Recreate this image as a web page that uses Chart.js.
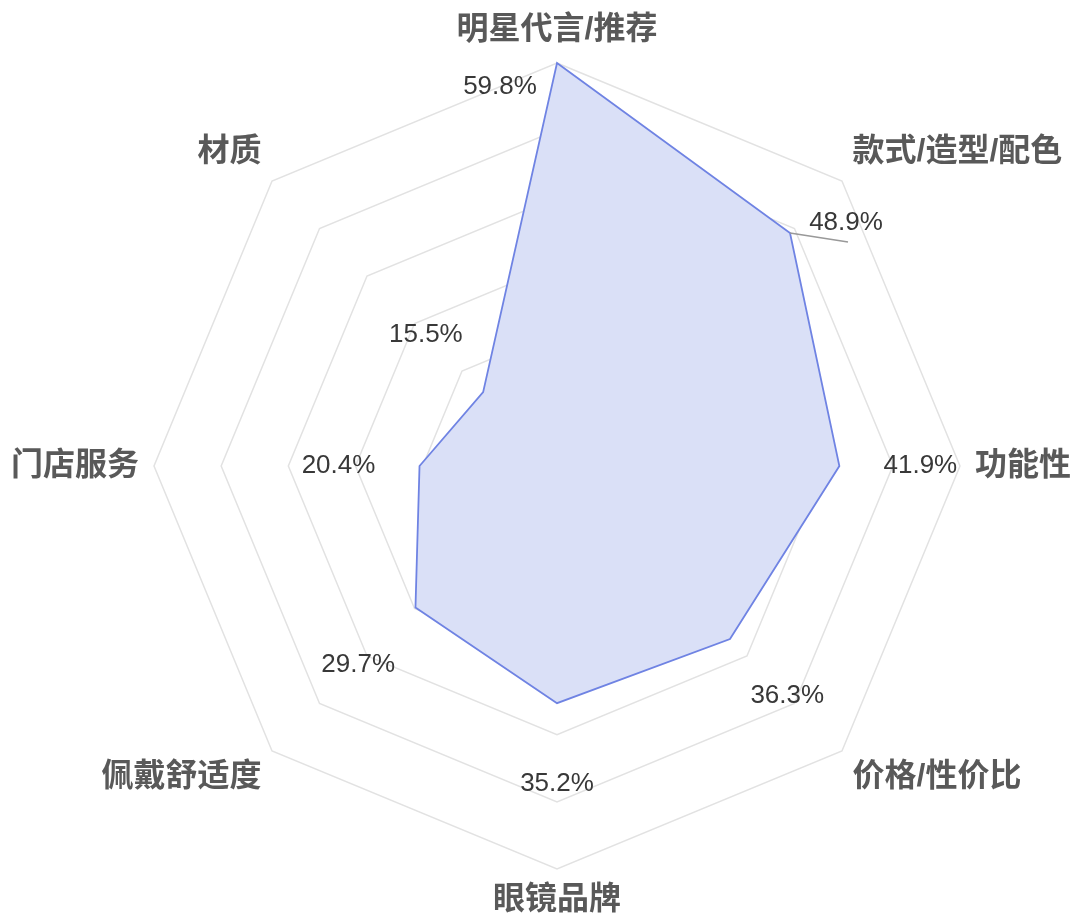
<!DOCTYPE html>
<html>
<head>
<meta charset="utf-8">
<script src="https://cdn.jsdelivr.net/npm/chart.js@4.4.1/dist/chart.umd.min.js"></script>
<style>
  html, body { margin: 0; padding: 0; background: #fff; }
  #wrap { width: 1071px; height: 915px; }
</style>
</head>
<body>
<div id="wrap"><canvas id="myChart" width="1071" height="915"></canvas></div>
<script>
const LABELS = ["明星代言/推荐", "款式/造型/配色", "功能性", "价格/性价比", "眼镜品牌", "佩戴舒适度", "门店服务", "材质"];
const VALUES = [59.8, 48.9, 41.9, 36.3, 35.2, 29.7, 20.4, 15.5];
const SCALE_MAX = 59.8;

const FONT = "'Liberation Sans', Arial, 'Noto Sans CJK SC', sans-serif";

// 축 라벨 + 값 라벨을 직접 그리는 플러그인
const labelPlugin = {
  id: 'radarLabels',
  afterDatasetsDraw(chart) {
    const ctx = chart.ctx;
    const scale = chart.scales.r;
    const outer = scale.drawingArea;
    const cx = scale.xCenter, cy = scale.yCenter;

    // 카테고리 라벨
    ctx.save();
    ctx.font = "bold 32px " + FONT;
    ctx.fillStyle = "#595959";
    ctx.textBaseline = "middle";
    LABELS.forEach((label, i) => {
      const p = scale.getPointPosition(i, outer + 15);
      const dx = p.x - cx, dy = p.y - cy;
      ctx.textAlign = Math.abs(dx) < 5 ? "center" : (dx > 0 ? "left" : "right");
      let y = p.y;
      if (dy < -5) y -= 18;
      else if (dy > 5) y += 16;
      ctx.fillText(label, p.x, y);
    });
    ctx.restore();

    // 값 라벨 (위쪽 두 개는 위치 조정)
    const shift = { 0: [-57, 24], 1: [56, -10] };
    ctx.save();
    ctx.font = "26px " + FONT;
    ctx.fillStyle = "#383838";
    ctx.textAlign = "center";
    ctx.textBaseline = "middle";
    VALUES.forEach((v, i) => {
      const d = scale.getDistanceFromCenterForValue(v);
      const pt = scale.getPointPosition(i, d);
      let pos;
      if (shift[i]) {
        pos = { x: pt.x + shift[i][0], y: pt.y + shift[i][1] };
      } else {
        pos = scale.getPointPosition(i, d + 81);
      }
      if (i === 1) {
        ctx.strokeStyle = "#999";
        ctx.lineWidth = 1.5;
        ctx.beginPath();
        ctx.moveTo(pt.x, pt.y);
        ctx.lineTo(pt.x + 58, pt.y + 9);
        ctx.stroke();
      }
      ctx.fillText(v.toFixed(1) + "%", pos.x, pos.y);
    });
    ctx.restore();
  }
};

const config = {
  type: "radar",
  data: {
    labels: LABELS,
    datasets: [{
      data: VALUES,
      borderColor: "#6f83e3",
      backgroundColor: "rgb(218,224,247)",
      borderWidth: 1.8,
      fill: true,
      pointRadius: 0,
      pointHoverRadius: 0,
      tension: 0
    }]
  },
  options: {
    responsive: false,
    animation: false,
    layout: { padding: { left: 154, right: 111, top: 63, bottom: 46 } },
    plugins: { legend: { display: false }, tooltip: { enabled: false } },
    scales: {
      r: {
        min: 0,
        max: SCALE_MAX,
        ticks: { display: false, count: 7 },
        grid: { color: "#e2e2e2", lineWidth: 1.5 },
        angleLines: { display: false },
        pointLabels: { display: false }
      }
    }
  },
  plugins: [labelPlugin]
};

const myChart = new Chart(document.getElementById("myChart"), config);
</script>
</body>
</html>
